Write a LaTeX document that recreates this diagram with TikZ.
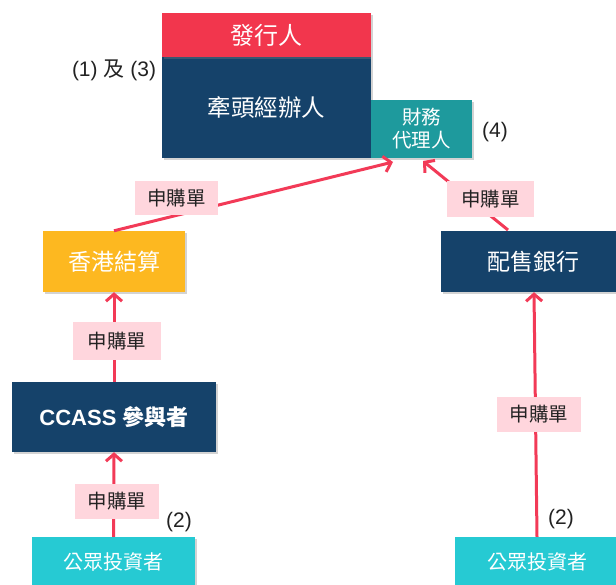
\documentclass[tikz,border=0pt]{standalone}
\usepackage{fontspec}
\setmainfont{Liberation Sans}
\newfontfamily\cjk{Noto Sans CJK TC}
\usetikzlibrary{arrows.meta,shadows}
\definecolor{cred}{HTML}{F2364D}
\definecolor{cnavy}{HTML}{15426A}
\definecolor{cteal}{HTML}{1E9A9D}
\definecolor{corange}{HTML}{FDB820}
\definecolor{ccyan}{HTML}{26CAD3}
\definecolor{cpink}{HTML}{FFD6DD}
\definecolor{carrow}{HTML}{F23A57}
\definecolor{ctext}{HTML}{222222}
\tikzset{
  box/.style={draw=none, text=white, inner sep=0pt, align=center,
    drop shadow={opacity=0.35, shadow xshift=1.5pt, shadow yshift=-2pt}},
  lbl/.style={fill=cpink, text=ctext, inner sep=0pt, font=\cjk\fontsize{19.5}{22}\selectfont},
  note/.style={text=ctext, inner sep=0pt, font=\fontsize{21}{24}\selectfont},
  conn/.style={draw=carrow, line width=3pt, -{Straight Barb[length=7pt,width=16pt]}}
}
\begin{document}
\begin{tikzpicture}[x=1pt,y=-1pt]
\useasboundingbox (0,0) rectangle (616,585);
% top group
\node[box, fill=cnavy, minimum width=209pt, minimum height=101pt, font=\cjk\fontsize{23.5}{26}\selectfont] (lead) at (266.5,107.5) {牽頭經辦人};
\node[box, fill=cred, minimum width=209pt, minimum height=44pt, font=\cjk\fontsize{24}{26}\selectfont, drop shadow={opacity=0}] (issuer) at (266.5,35) {發行人};
\node[box, fill=cteal, minimum width=101pt, minimum height=58pt, font=\cjk\fontsize{19.5}{23}\selectfont] (agent) at (421.5,129) {財務\\代理人};
\node[note] (n13) at (114,70) {(1) {\cjk 及} (3)};
\node[note] (n4) at (495,132) {(4)};
% middle
\node[box, fill=corange, minimum width=142pt, minimum height=61pt, font=\cjk\fontsize{23}{26}\selectfont] (hkscc) at (114,261.5) {香港結算};
\node[box, fill=cnavy, minimum width=184pt, minimum height=61pt, font=\cjk\fontsize{23}{26}\selectfont] (placing) at (533,261.5) {配售銀行};
\node[box, fill=cnavy, minimum width=204pt, minimum height=70pt, font=\fontsize{22}{26}\selectfont\bfseries] (ccass) at (114,417) {CCASS {\cjk\bfseries 參與者}};
% bottom
\node[box, fill=ccyan, minimum width=163pt, minimum height=50pt, font=\cjk\fontsize{20}{23}\selectfont] (pubL) at (113.5,562) {公眾投資者};
\node[box, fill=ccyan, minimum width=164pt, minimum height=50pt, font=\cjk\fontsize{20}{23}\selectfont] (pubR) at (537,562) {公眾投資者};
\node[note] (n2L) at (179,522) {(2)};
\node[note] (n2R) at (561,519) {(2)};
% connector end points
\coordinate (aL) at (393,162);
\coordinate (aR) at (423,161);
\coordinate (sR) at (508,230);
% connectors
\draw[conn] (hkscc.north) -- (aL);
\draw[conn] (sR) -- (aR);
\draw[conn] (ccass.north) -- (hkscc.south);
\draw[conn] (pubL.north) -- (ccass.south);
\draw[conn] (pubR.north) -- ([xshift=1pt]placing.south);
% labels
\node[lbl, minimum width=83pt, minimum height=34pt] (l1) at (176.5,198) {申購單};
\node[lbl, minimum width=87pt, minimum height=36pt] (l2) at (490.5,199) {申購單};
\node[lbl, minimum width=88pt, minimum height=38pt] (l3) at (117,341) {申購單};
\node[lbl, minimum width=84pt, minimum height=35pt] (l4) at (117,501.5) {申購單};
\node[lbl, minimum width=84pt, minimum height=35pt] (l5) at (539,414.5) {申購單};
\end{tikzpicture}
\end{document}
